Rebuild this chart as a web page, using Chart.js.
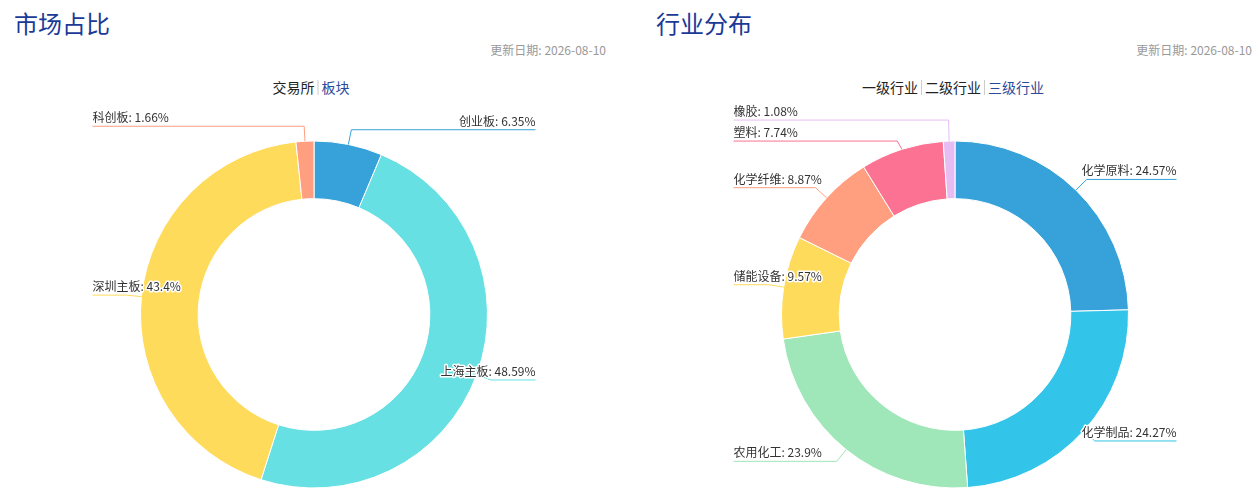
<!DOCTYPE html>
<html>
<head>
<meta charset="utf-8">
<script src="https://cdn.jsdelivr.net/npm/chart.js@4/dist/chart.umd.min.js"></script>
<style>
html,body{margin:0;padding:0;background:#fff;overflow:hidden;width:1259px;height:500px;font-family:"Noto Sans CJK SC","Noto Sans",sans-serif;}
.title{position:absolute;top:4px;font-size:24px;color:#1a3a96;line-height:38px;white-space:nowrap;}
.date{position:absolute;top:41px;font-size:12px;color:#999;line-height:18px;white-space:nowrap;}
.tabs{position:absolute;top:77px;font-size:14px;line-height:20px;color:#222;white-space:nowrap;transform:translateX(-50%);}
.tabs span.sep{display:inline-block;width:1px;height:15px;background:#ccc;margin:0 3px;vertical-align:-2px;}
.tabs .on{color:#2a4a9c;}
canvas{position:absolute;top:0;}
</style>
</head>
<body>
<div class="title" style="left:14px;">市场占比</div>
<div class="date" style="right:653px;">更新日期: 2026-08-10</div>
<div class="tabs" style="left:311px;">交易所<span class="sep"></span><span class="on">板块</span></div>

<div class="title" style="left:656px;">行业分布</div>
<div class="date" style="right:7px;">更新日期: 2026-08-10</div>
<div class="tabs" style="left:953px;">一级行业<span class="sep"></span>二级行业<span class="sep"></span><span class="on">三级行业</span></div>

<canvas id="c1" width="628" height="500" style="left:0;width:628px;height:500px;"></canvas>
<canvas id="c2" width="618" height="500" style="left:641px;width:618px;height:500px;"></canvas>

<script>
// ---- data ----
const marketLabels = ['创业板', '上海主板', '深圳主板', '科创板'];
const marketValues = [6.35, 48.59, 43.4, 1.66];

const industryLabels = ['化学原料', '化学制品', '农用化工', '储能设备', '化学纤维', '塑料', '橡胶'];
const industryValues = [24.57, 24.27, 23.9, 9.57, 8.87, 7.74, 1.08];

// ---- styles ----
const marketColors = ['#37a2da', '#67e0e3', '#ffdb5c', '#ff9f7f'];
const industryColors = ['#37a2da', '#32c5e9', '#9fe6b8', '#ffdb5c', '#ff9f7f', '#fb7293', '#e7bcf3'];

const leaderPlugin = {
  id: 'leader',
  afterDatasetsDraw(chart, args, opts) {
    const ctx = chart.ctx;
    const meta = chart.getDatasetMeta(0);
    const ds = chart.data.datasets[0];
    const items = [];
    meta.data.forEach((arc, i) => {
      const p = arc.getProps(['x', 'y', 'startAngle', 'endAngle', 'outerRadius'], true);
      const a = (p.startAngle + p.endAngle) / 2;
      const R = p.outerRadius;
      const c = Math.cos(a), s = Math.sin(a);
      const right = c >= 0;
      items.push({
        right,
        x0: p.x + R * c, y0: p.y + R * s,
        x1: p.x + (R + opts.len1) * c, y1: p.y + (R + opts.len1) * s,
        y: p.y + (R + opts.len1) * s,
        edgeX: right ? p.x + R + opts.edge : p.x - R - opts.edge,
        color: ds.backgroundColor[i],
        text: chart.data.labels[i] + ': ' + ds.data[i] + '%'
      });
    });
    [true, false].forEach(side => {
      const list = items.filter(it => it.right === side).sort((a, b) => a.y - b.y);
      for (let iter = 0; iter < 100; iter++) {
        let moved = false;
        for (let k = 1; k < list.length; k++) {
          const gap = list[k].y - list[k - 1].y;
          if (gap < opts.minGap - 0.01) {
            const d = (opts.minGap - gap) / 2;
            list[k].y += d; list[k - 1].y -= d; moved = true;
          }
        }
        if (!moved) break;
      }
    });
    ctx.save();
    ctx.lineWidth = 1;
    items.forEach(it => {
      ctx.strokeStyle = it.color;
      ctx.beginPath();
      ctx.moveTo(it.x0, it.y0);
      ctx.lineTo(it.x1, it.y);
      ctx.lineTo(it.edgeX, it.y);
      ctx.stroke();
    });
    ctx.font = '12px "Noto Sans CJK SC", "Noto Sans", sans-serif';
    ctx.textBaseline = 'alphabetic';
    ctx.lineJoin = 'round';
    items.forEach(it => {
      ctx.textAlign = it.right ? 'right' : 'left';
      ctx.strokeStyle = '#fff';
      ctx.lineWidth = 3;
      ctx.strokeText(it.text, it.edgeX, it.y - 4);
      ctx.fillStyle = '#333';
      ctx.fillText(it.text, it.edgeX, it.y - 4);
    });
    ctx.restore();
  }
};

function makeDonut(id, labels, values, colors, padding) {
  return new Chart(document.getElementById(id), {
    type: 'doughnut',
    data: {
      labels: labels,
      datasets: [{
        data: values,
        backgroundColor: colors,
        borderColor: '#ffffff',
        borderWidth: 1,
        radius: 173.5,
        cutout: 115.5
      }]
    },
    options: {
      responsive: false,
      animation: false,
      layout: { padding: padding },
      plugins: {
        legend: { display: false },
        tooltip: { enabled: false },
        leader: { len1: 15, edge: 48, minGap: 21 }
      }
    },
    plugins: [leaderPlugin]
  });
}

makeDonut('c1', marketLabels, marketValues, marketColors, { top: 141, bottom: 12, left: 0, right: 0 });
makeDonut('c2', industryLabels, industryValues, industryColors, { top: 141, bottom: 12, left: 10, right: 0 });
</script>
</body>
</html>
